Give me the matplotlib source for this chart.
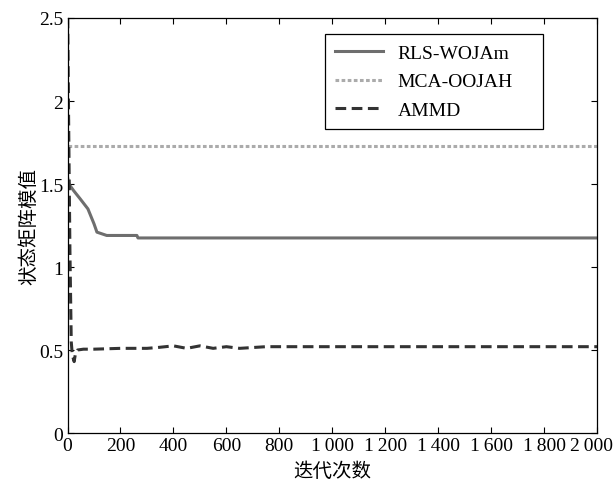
import matplotlib
matplotlib.use("Agg")
import matplotlib.pyplot as plt
from matplotlib.transforms import ScaledTranslation

plt.rcParams['font.family'] = ['Liberation Serif', 'Noto Sans CJK SC', 'DejaVu Serif']
plt.rcParams['font.size'] = 14

# ---------------------------------------------------------------------------
# data
# ---------------------------------------------------------------------------
rls_x = [0, 5, 23, 48, 77, 100, 111, 148, 200, 262, 266, 2000]
rls_y = [1.54, 1.50, 1.46, 1.41, 1.35, 1.26, 1.21, 1.19, 1.19, 1.19, 1.175, 1.175]

mca_x = [0, 2000]
mca_y = [1.73, 1.73]

ammd_x = [0, 4, 9, 14, 18, 25, 30, 38, 60, 100, 200, 300, 340, 400, 450,
          500, 550, 600, 650, 700, 750, 800, 1000, 1500, 2000]
ammd_y = [2.6, 1.9, 1.1, 0.55, 0.47, 0.43, 0.48, 0.50, 0.505, 0.505, 0.51,
          0.51, 0.515, 0.525, 0.51, 0.525, 0.51, 0.52, 0.51, 0.515, 0.52,
          0.52, 0.52, 0.52, 0.52]

x_ticks = [0, 200, 400, 600, 800, 1000, 1200, 1400, 1600, 1800, 2000]
x_tick_labels = ["0", "200", "400", "600", "800", "1\u2009000", "1\u2009200",
                 "1\u2009400", "1\u2009600", "1\u2009800", "2\u2009000"]
y_ticks = [0, 0.5, 1, 1.5, 2, 2.5]
y_tick_labels = ["0", "0.5", "1", "1.5", "2", "2.5"]

fig = plt.figure(figsize=(6.14, 4.81), dpi=100)
ax = fig.add_axes([0.110, 0.0977, 0.8624, 0.8628])

ax.plot(rls_x, rls_y, color="#6e6e6e", lw=2.2, label="RLS-WOJAm")
ax.plot(mca_x, mca_y, color="#ababab", lw=2.2, linestyle=(0, (1.2, 0.8)),
        label="MCA-OOJAH")
ax.plot(ammd_x, ammd_y, color="#333333", lw=2.2, linestyle=(0, (3.5, 1.8)),
        label="AMMD")

ax.set_xlim(0, 2000)
ax.set_ylim(0, 2.5)
ax.set_xticks(x_ticks)
ax.set_xticklabels(x_tick_labels)
ax.set_yticks(y_ticks)
ax.set_yticklabels(y_tick_labels)
ax.tick_params(direction="in", top=True, right=True, length=4, width=0.8,
               labelsize=14, pad=3)
for s in ax.spines.values():
    s.set_linewidth(0.9)

# last label sits a bit left of its tick so it stays inside the picture
last = ax.get_xticklabels()[-1]
last.set_transform(last.get_transform() + ScaledTranslation(-0.06, 0, fig.dpi_scale_trans))

ax.set_xlabel("迭代次数", fontsize=14)
ax.set_ylabel("状态矩阵模值", fontsize=14)
ax.xaxis.set_label_coords(0.5, -0.068)
ax.yaxis.set_label_coords(-0.055, 0.5)

leg = ax.legend(loc="upper left", bbox_to_anchor=(0.486, 0.7325, 0.412, 0.2285),
                mode="expand", borderaxespad=0, fancybox=False, framealpha=1,
                edgecolor="black", handlelength=2.5, handletextpad=0.75,
                labelspacing=0.58, borderpad=0.5, fontsize=14)
leg.get_frame().set_linewidth(0.9)

fig.savefig("out.png", dpi=100)
